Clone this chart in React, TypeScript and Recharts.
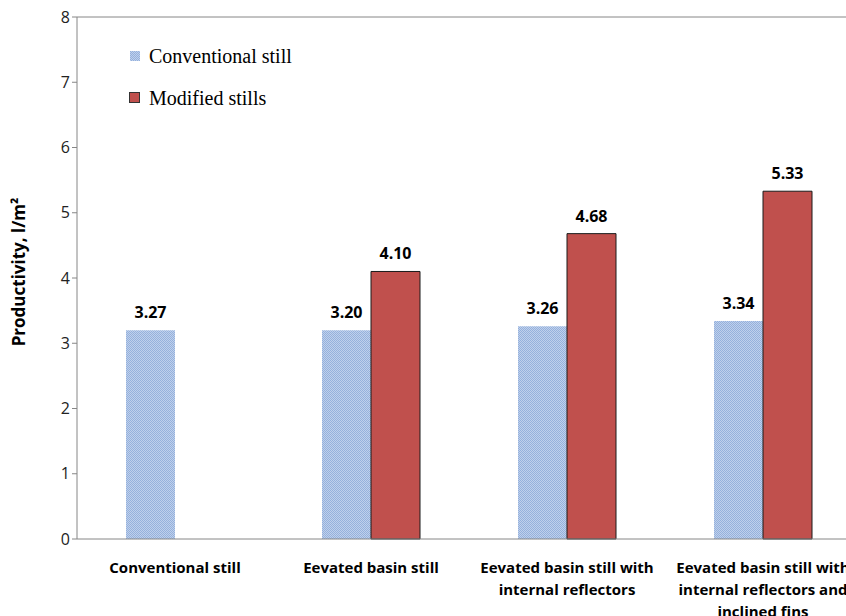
import React from 'react'
import {
  BarChart,
  Bar,
  XAxis,
  YAxis,
  LabelList,
  ReferenceLine,
} from 'recharts'

const categories = [
  'Conventional still',
  'Eevated basin still',
  'Eevated basin still with internal reflectors',
  'Eevated basin still with internal reflectors and inclined fins',
]
const conventionalValues = [3.2, 3.2, 3.26, 3.34]
const conventionalLabels = ['3.27', '3.20', '3.26', '3.34']
const modifiedValues: (number | null)[] = [null, 4.1, 4.68, 5.33]
const modifiedLabels = ['', '4.10', '4.68', '5.33']
const seriesNames = ['Conventional still', 'Modified stills']
const yTicks = [0, 1, 2, 3, 4, 5, 6, 7, 8]
const boundaryTicks = [0, 1, 2, 3, 4]

const data = categories.map((name, i) => ({
  name,
  idx: i + 0.5,
  conv: conventionalValues[i],
  convLabel: conventionalLabels[i],
  mod: modifiedValues[i],
  modLabel: modifiedLabels[i],
}))

const AXIS = '#868686'
const RED = '#c0504d'
const LABEL_FONT = 'Open Sans, sans-serif'

function wrap(text: string, max: number) {
  const words = text.split(' ')
  const lines: string[] = []
  let cur = ''
  words.forEach((w) => {
    const next = cur ? cur + ' ' + w : w
    if (next.length > max && cur) {
      lines.push(cur)
      cur = w
    } else cur = next
  })
  if (cur) lines.push(cur)
  return lines
}

const CategoryTick = ({ x, y, payload }: any) => {
  const lines = wrap(payload.value, 24)
  return (
    <text
      x={x}
      y={y}
      textAnchor="middle"
      fontFamily={LABEL_FONT}
      fontWeight="bold"
      fontSize={15}
      fill="#000"
    >
      {lines.map((l, i) => (
        <tspan key={i} x={x} dy={i === 0 ? 26 : 22}>
          {l}
        </tspan>
      ))}
    </text>
  )
}

const LegendBox = () => (
  <div
    style={{
      position: 'absolute',
      left: 129,
      top: 35,
      fontFamily: 'Liberation Serif, serif',
      fontSize: 20,
      color: '#000',
    }}
  >
    {seriesNames.map((n, i) => (
      <div key={n} style={{ display: 'flex', alignItems: 'center', height: 42 }}>
        <svg width={12} height={12} style={{ marginRight: 8 }}>
          {i === 0 ? (
            <rect x={1} y={1} width={10} height={10} fill="url(#dots)" />
          ) : (
            <rect x={0.5} y={0.5} width={10} height={10} fill={RED} stroke="#333" />
          )}
        </svg>
        <span>{n}</span>
      </div>
    ))}
  </div>
)

export default function App() {
  return (
    <div style={{ position: 'absolute', left: 0, top: 0, width: 846, height: 616, background: '#fff', overflow: 'hidden' }}>
      <BarChart
        width={846}
        height={616}
        data={data}
        margin={{ top: 17, right: -15, left: 0, bottom: 0 }}
        barCategoryGap="25%"
        barGap={0}
      >
        <defs>
          <pattern id="dots" width={2} height={2} patternUnits="userSpaceOnUse">
            <rect width={2} height={2} fill="#bfd0ec" />
            <rect width={1} height={1} fill="#95b1dc" />
            <rect x={1} y={1} width={1} height={1} fill="#95b1dc" />
          </pattern>
        </defs>
        <XAxis
          dataKey="name"
          xAxisId="cat"
          height={77}
          tickLine={false}
          axisLine={{ stroke: AXIS }}
          tick={<CategoryTick />}
          interval={0}
        />
        <XAxis
          xAxisId="bnd"
          type="number"
          dataKey="idx"
          domain={[0, 4]}
          ticks={boundaryTicks}
          tickLine={{ stroke: AXIS }}
          tickSize={5}
          tick={false}
          axisLine={false}
          height={0}
          orientation="bottom"
        />
        <YAxis
          width={77}
          domain={[0, 8]}
          ticks={yTicks}
          interval={0}
          tickSize={5}
          tickLine={{ stroke: AXIS }}
          axisLine={{ stroke: AXIS }}
          tick={{ fontSize: 16, fill: '#222', fontFamily: LABEL_FONT }}
          label={{
            value: 'Productivity, l/m²',
            angle: -90,
            position: 'center',
            dx: -20,
            dy: -6,
            style: { fontSize: 17, fontWeight: 'bold', fill: '#000', fontFamily: LABEL_FONT },
          }}
        />
        <ReferenceLine y={8} xAxisId="cat" stroke={AXIS} />
        <Bar dataKey="conv" xAxisId="cat" name={seriesNames[0]} fill="url(#dots)" isAnimationActive={false}>
          <LabelList
            dataKey="convLabel"
            position="top"
            offset={12}
            style={{ fontSize: 16, fontWeight: 'bold', fill: '#000', fontFamily: LABEL_FONT }}
          />
        </Bar>
        <Bar dataKey="mod" xAxisId="cat" name={seriesNames[1]} fill={RED} stroke="#1a1a1a" strokeWidth={1} isAnimationActive={false}>
          <LabelList
            dataKey="modLabel"
            position="top"
            offset={12}
            style={{ fontSize: 16, fontWeight: 'bold', fill: '#000', fontFamily: LABEL_FONT }}
          />
        </Bar>
      </BarChart>
      <LegendBox />
    </div>
  )
}
